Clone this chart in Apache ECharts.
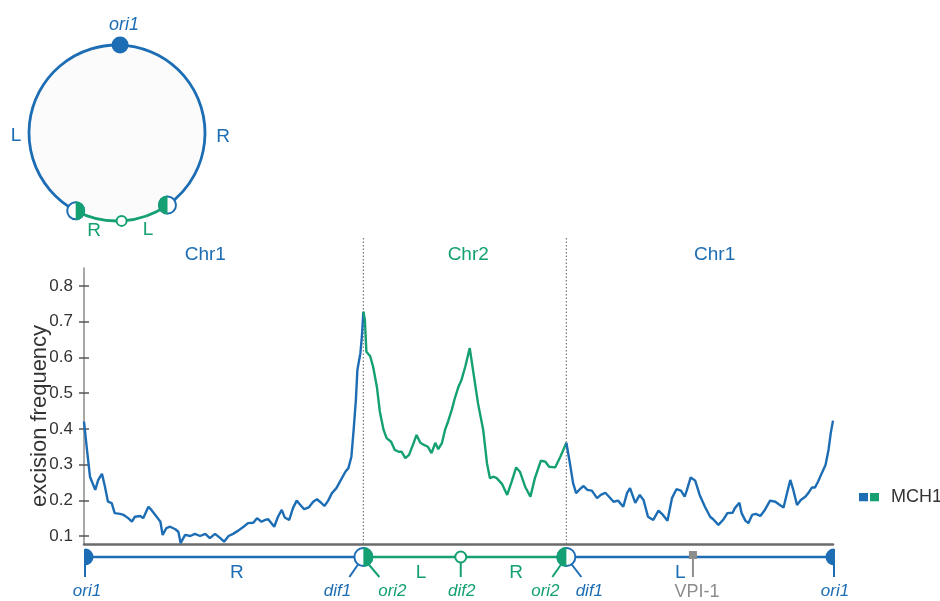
<!DOCTYPE html>
<html><head><meta charset="utf-8">
<script src="https://cdn.jsdelivr.net/npm/echarts@6/dist/echarts.min.js"></script>
<style>html,body{margin:0;padding:0;background:#fff}#c{width:940px;height:601px}</style>
</head><body><div id="c"></div>
<script>
// ---- data (x = position along MCH1, % of length) ----
const chr1RightPos = [0,0.4,0.8,1.5,1.9,2.4,2.8,3.2,3.7,4.1,4.8,5.3,5.9,6.4,6.8,7.5,7.9,8.6,9.0,9.7,10.2,10.5,11.0,11.5,12.2,12.6,12.9,13.5,14.2,14.8,15.5,16.2,16.8,17.5,18.2,18.7,19.3,19.9,20.6,21.3,21.9,22.6,23.1,23.7,24.2,24.6,25.4,25.9,26.4,26.8,27.4,27.9,28.4,28.8,29.4,30.0,30.6,31.1,31.5,32.1,32.6,33.1,33.7,34.3,34.9,35.3,35.7,36.0,36.3,36.5,36.9,37.1,37.3];
const chr1RightVal = [0.420,0.341,0.266,0.229,0.257,0.274,0.238,0.196,0.192,0.164,0.162,0.159,0.150,0.140,0.154,0.156,0.150,0.182,0.173,0.154,0.140,0.103,0.122,0.126,0.119,0.112,0.080,0.103,0.100,0.106,0.100,0.106,0.094,0.106,0.094,0.084,0.100,0.106,0.115,0.126,0.136,0.137,0.150,0.140,0.145,0.147,0.126,0.154,0.173,0.152,0.145,0.178,0.199,0.189,0.175,0.180,0.196,0.203,0.196,0.184,0.199,0.220,0.234,0.257,0.280,0.290,0.322,0.397,0.481,0.565,0.612,0.658,0.728];
const chr2Pos = [37.3,37.5,37.7,38.2,38.6,39.1,39.5,40.0,40.4,41.0,41.5,42.0,42.4,42.9,43.4,44.0,44.4,44.9,45.4,45.9,46.4,46.9,47.3,47.8,48.2,48.6,49.1,49.5,50.0,50.4,50.9,51.5,52.0,52.6,53.3,53.8,54.2,54.7,55.1,55.8,56.5,57.1,57.7,58.2,58.9,59.6,60.2,61.0,61.6,62.1,62.9,63.6,64.4];
const chr2Val = [0.728,0.705,0.616,0.604,0.574,0.518,0.448,0.397,0.374,0.364,0.341,0.336,0.336,0.318,0.327,0.360,0.383,0.361,0.355,0.350,0.332,0.361,0.343,0.361,0.397,0.420,0.453,0.485,0.518,0.537,0.574,0.626,0.556,0.472,0.397,0.304,0.262,0.266,0.262,0.246,0.215,0.252,0.292,0.280,0.238,0.210,0.262,0.311,0.308,0.294,0.292,0.322,0.361];
const chr1LeftPos = [64.4,64.8,65.3,65.7,66.2,66.7,67.2,67.8,68.5,69.0,69.6,70.1,70.7,71.3,72.0,72.5,72.9,73.6,74.2,74.7,75.3,76.0,76.7,77.3,77.9,78.5,79.1,79.7,80.2,80.5,81.0,81.6,82.2,82.9,83.6,84.0,84.7,85.4,85.9,86.6,86.9,87.5,87.8,88.3,88.7,89.2,89.7,90.3,90.9,91.6,92.3,92.9,93.4,93.8,94.3,94.7,95.2,95.7,96.3,96.7,97.2,97.6,98.0,98.5,99.0,99.4,99.7,100];
const chr1LeftVal = [0.361,0.313,0.248,0.220,0.231,0.240,0.229,0.227,0.206,0.215,0.221,0.210,0.196,0.199,0.182,0.220,0.234,0.193,0.215,0.201,0.154,0.145,0.171,0.159,0.143,0.206,0.231,0.227,0.210,0.229,0.264,0.255,0.215,0.182,0.154,0.147,0.131,0.147,0.164,0.165,0.178,0.193,0.164,0.143,0.136,0.159,0.162,0.156,0.173,0.199,0.196,0.187,0.180,0.215,0.257,0.229,0.187,0.201,0.210,0.220,0.236,0.236,0.252,0.276,0.299,0.341,0.388,0.423];
const yTicks = [0.1,0.2,0.3,0.4,0.5,0.6,0.7,0.8];
const yMin = 0.0776, yMax = 0.8504;
const boundaries = [37.3, 64.4];
const chrNames = ['Chr1','Chr2','Chr1'];
const chrLabelPos = [16.2, 51.3, 84.2];
const featurePos = [0, 37.3, 50.3, 64.4, 81.3, 100];
const featureKind = ['oriStart','junctionA','dif','junctionB','vpi','oriEnd'];
const featureLabels = [['ori1'],['dif1','ori2'],['dif2'],['ori2','dif1'],['VPI-1'],['ori1']];
const segStart = [0, 37.3, 64.4];
const segEnd = [37.3, 64.4, 100];
const segChr = ['Chr1','Chr2','Chr1'];
const armLabels = ['R','L','R','L'];
const armPos = [20.4, 45.0, 57.7, 79.6];
const armChr = ['Chr1','Chr2','Chr2','Chr1'];
const legendName = 'MCH1';

// ---- style ----
const BLUE = '#1c6db4', GREEN = '#14a072', GRAY = '#8d8d8d', DARK = '#333333';
const FONT = "'Liberation Sans', Arial, Helvetica, sans-serif";
const MAIN = {left: 84, right: 107, top: 268, bottom: 57};
const H = 601;
const chrColor = c => c === 'Chr2' ? GREEN : BLUE;
const deg = d => d * Math.PI / 180;

function txt(t, x, y, color, size, italic, extra) {
  return Object.assign({type: 'text', x: x, y: y, style: {
    text: t, fill: color, font: (italic ? 'italic ' : '') + size + 'px ' + FONT,
    align: 'center', verticalAlign: 'middle', textAlign: 'center', textVerticalAlign: 'middle'}}, extra || {});
}

// ---- circle diagram (graphic) ----
const C = {cx: 117, cy: 133, r: 88};
const pt = a => [C.cx + C.r * Math.cos(deg(a)), C.cy + C.r * Math.sin(deg(a))];
const pOri = pt(-88), pJL = pt(118), pJR = pt(55), pDif = pt(87);
const graphics = [
  {type: 'circle', shape: {cx: C.cx, cy: C.cy, r: C.r}, style: {fill: '#fbfbfc'}},
  {type: 'arc', shape: {cx: C.cx, cy: C.cy, r: C.r, startAngle: deg(118), endAngle: deg(415), clockwise: true}, style: {stroke: BLUE, lineWidth: 2.8, fill: null}},
  {type: 'arc', shape: {cx: C.cx, cy: C.cy, r: C.r, startAngle: deg(55), endAngle: deg(118), clockwise: true}, style: {stroke: GREEN, lineWidth: 2.8, fill: null}},
  {type: 'circle', shape: {cx: pOri[0], cy: pOri[1], r: 8.5}, style: {fill: BLUE}},
  {type: 'circle', shape: {cx: pJL[0], cy: pJL[1], r: 8.5}, style: {fill: '#fff', stroke: BLUE, lineWidth: 2}},
  {type: 'sector', shape: {cx: pJL[0], cy: pJL[1], r: 9.5, r0: 0, startAngle: -Math.PI/2, endAngle: Math.PI/2}, style: {fill: GREEN}},
  {type: 'circle', shape: {cx: pJR[0], cy: pJR[1], r: 8.5}, style: {fill: '#fff', stroke: BLUE, lineWidth: 2}},
  {type: 'sector', shape: {cx: pJR[0], cy: pJR[1], r: 9.5, r0: 0, startAngle: Math.PI/2, endAngle: Math.PI*1.5}, style: {fill: GREEN}},
  {type: 'circle', shape: {cx: pDif[0], cy: pDif[1], r: 5}, style: {fill: '#fff', stroke: GREEN, lineWidth: 2}},
  txt('ori1', 124, 25, BLUE, 18, true),
  txt('L', 16, 136, BLUE, 19, false),
  txt('R', 223, 137, BLUE, 19, false),
  txt('R', 94, 231, GREEN, 19, false),
  txt('L', 148, 230, GREEN, 19, false),
  txt('excision frequency', 40, 416, DARK, 22, false, {rotation: Math.PI/2})
];

// ---- render helpers for annotation bar ----
const BAR_Y = 12, STEM = 20, LAB = 34;
function renderSeg(params, api) {
  const a = api.coord([api.value(0), 0])[0];
  const b = api.coord([api.value(2), 0])[0];
  const y = params.coordSys.y + BAR_Y;
  return {type: 'line', shape: {x1: a, y1: y, x2: b, y2: y},
    style: {stroke: chrColor(segChr[params.dataIndex]), lineWidth: 2.5}};
}
function renderFeature(params, api) {
  const i = params.dataIndex;
  const x = api.coord([api.value(0), 0])[0];
  const y = params.coordSys.y + BAR_Y;
  const yb = y + STEM, yl = y + LAB;
  const L = featureLabels[i];
  const ch = [];
  const ln = (x1, y1, x2, y2, c) => ({type: 'line', shape: {x1, y1, x2, y2}, style: {stroke: c, lineWidth: 2}});
  switch (featureKind[i]) {
    case 'oriStart':
      ch.push({type: 'sector', shape: {cx: x + 1, cy: y, r: 8.5, r0: 0, startAngle: -Math.PI/2, endAngle: Math.PI/2}, style: {fill: BLUE}});
      ch.push(ln(x + 1, y - 8, x + 1, yb, BLUE));
      ch.push(txt(L[0], x + 3, yl, BLUE, 17, true));
      break;
    case 'oriEnd':
      ch.push({type: 'sector', shape: {cx: x + 1, cy: y, r: 8.5, r0: 0, startAngle: Math.PI/2, endAngle: Math.PI*1.5}, style: {fill: BLUE}});
      ch.push(ln(x + 1, y - 8, x + 1, yb, BLUE));
      ch.push(txt(L[0], x + 2, yl, BLUE, 17, true));
      break;
    case 'junctionA':
      ch.push(ln(x - 5, y + 7, x - 14, yb, BLUE));
      ch.push(ln(x + 5, y + 7, x + 16, yb, GREEN));
      ch.push({type: 'circle', shape: {cx: x, cy: y, r: 9}, style: {fill: '#fff', stroke: BLUE, lineWidth: 2}});
      ch.push({type: 'sector', shape: {cx: x, cy: y, r: 10, r0: 0, startAngle: -Math.PI/2, endAngle: Math.PI/2}, style: {fill: GREEN}});
      ch.push(txt(L[0], x - 26, yl, BLUE, 17, true));
      ch.push(txt(L[1], x + 29, yl, GREEN, 17, true));
      break;
    case 'junctionB':
      ch.push(ln(x - 5, y + 7, x - 14, yb, GREEN));
      ch.push(ln(x + 5, y + 7, x + 15, yb, BLUE));
      ch.push({type: 'circle', shape: {cx: x, cy: y, r: 9}, style: {fill: '#fff', stroke: BLUE, lineWidth: 2}});
      ch.push({type: 'sector', shape: {cx: x, cy: y, r: 10, r0: 0, startAngle: Math.PI/2, endAngle: Math.PI*1.5}, style: {fill: GREEN}});
      ch.push(txt(L[0], x - 21, yl, GREEN, 17, true));
      ch.push(txt(L[1], x + 23, yl, BLUE, 17, true));
      break;
    case 'dif':
      ch.push(ln(x, y + 5, x, yb, GREEN));
      ch.push({type: 'circle', shape: {cx: x, cy: y, r: 5.5}, style: {fill: '#fff', stroke: GREEN, lineWidth: 2}});
      ch.push(txt(L[0], x + 1, yl, GREEN, 17, true));
      break;
    case 'vpi':
      ch.push(ln(x, y + 2, x, yb, GRAY));
      ch.push({type: 'rect', shape: {x: x - 4, y: y - 6, width: 8, height: 8}, style: {fill: GRAY}});
      ch.push(txt(L[0], x + 4, yl + 1, GRAY, 18, false));
      break;
  }
  return {type: 'group', children: ch};
}
function renderArm(params, api) {
  const i = params.dataIndex;
  const x = api.coord([api.value(0), 0])[0];
  return txt(armLabels[i], x, params.coordSys.y + BAR_Y + 16, chrColor(armChr[i]), 19, false);
}
function renderDotted(params, api) {
  const x = api.coord([api.value(0), 0])[0];
  return {type: 'line', shape: {x1: x, y1: params.coordSys.y, x2: x, y2: H - MAIN.bottom},
    style: {stroke: '#777', lineWidth: 1.2, lineDash: [1.5, 2]}};
}
function renderChr(params, api) {
  const i = params.dataIndex;
  const x = api.coord([api.value(0), 0])[0];
  return txt(chrNames[i], x, params.coordSys.y + 17, chrColor(chrNames[i]), 19, false);
}

const legendIcon = 'image://data:image/svg+xml;utf8,' + encodeURIComponent(
  '<svg xmlns="http://www.w3.org/2000/svg" width="27" height="9"><rect x="0" y="0" width="9" height="9" fill="' + BLUE +
  '"/><rect x="11" y="0" width="9" height="9" fill="' + GREEN + '"/></svg>');

const hiddenAxis = (grid) => ({gridIndex: grid, type: 'value', min: 0, max: 100, show: false});
const chart = echarts.init(document.getElementById('c'), null, {renderer: 'canvas'});
chart.setOption({
  animation: false,
  backgroundColor: '#fff',
  textStyle: {fontFamily: FONT},
  grid: [
    Object.assign({}, MAIN),
    {left: MAIN.left, right: MAIN.right, top: 238, height: 30},
    {left: MAIN.left, right: MAIN.right, top: 545, height: 56}
  ],
  xAxis: [
    {gridIndex: 0, type: 'value', min: 0, max: 100,
      axisLine: {show: true, onZero: false, lineStyle: {color: '#6b6b6b', width: 2.5}},
      axisTick: {show: false}, axisLabel: {show: false}, splitLine: {show: false}},
    hiddenAxis(1), hiddenAxis(2)
  ],
  yAxis: [
    {gridIndex: 0, type: 'value', min: yMin, max: yMax, position: 'left',
      axisLine: {show: true, onZero: false, lineStyle: {color: '#8a8a8a', width: 1.5}},
      axisTick: {show: true, length: 5, customValues: yTicks, lineStyle: {color: '#555', width: 1.5}},
      axisLabel: {show: true, customValues: yTicks, margin: 11, fontSize: 17, color: DARK, fontFamily: FONT,
        formatter: v => Number(v).toFixed(1)},
      splitLine: {show: false}},
    {gridIndex: 0, type: 'value', min: yMin, max: yMax, position: 'left',
      axisLine: {show: true, onZero: false, lineStyle: {color: 'rgba(0,0,0,0)', width: 0}},
      axisTick: {show: true, inside: true, length: 5, customValues: yTicks, lineStyle: {color: '#555', width: 1.5}},
      axisLabel: {show: false}, splitLine: {show: false}},
    {gridIndex: 1, type: 'value', min: 0, max: 1, show: false},
    {gridIndex: 2, type: 'value', min: 0, max: 1, show: false}
  ],
  legend: {show: true, data: [legendName], left: 859, top: 488, padding: 0, itemWidth: 27, itemHeight: 9,
    icon: legendIcon, selectedMode: false, textStyle: {fontSize: 18, color: DARK, fontFamily: FONT}},
  graphic: {elements: graphics},
  series: [
    {type: 'custom', name: 'boundaries', xAxisIndex: 1, yAxisIndex: 2, renderItem: renderDotted, silent: true, z: 1,
      data: boundaries.map(b => [b, 0])},
    {type: 'custom', name: 'chr', xAxisIndex: 1, yAxisIndex: 2, renderItem: renderChr, silent: true,
      data: chrLabelPos.map(p => [p, 0])},
    {type: 'line', name: legendName, xAxisIndex: 0, yAxisIndex: 0, showSymbol: false, symbol: 'none', silent: true, z: 3,
      lineStyle: {color: BLUE, width: 2.4}, itemStyle: {color: BLUE},
      data: chr1RightPos.map((p, i) => [p, chr1RightVal[i]])},
    {type: 'line', name: legendName, xAxisIndex: 0, yAxisIndex: 0, showSymbol: false, symbol: 'none', silent: true, z: 3,
      lineStyle: {color: GREEN, width: 2.4}, itemStyle: {color: GREEN},
      data: chr2Pos.map((p, i) => [p, chr2Val[i]])},
    {type: 'line', name: legendName, xAxisIndex: 0, yAxisIndex: 0, showSymbol: false, symbol: 'none', silent: true, z: 3,
      lineStyle: {color: BLUE, width: 2.4}, itemStyle: {color: BLUE},
      data: chr1LeftPos.map((p, i) => [p, chr1LeftVal[i]])},
    {type: 'custom', name: 'segments', xAxisIndex: 2, yAxisIndex: 3, renderItem: renderSeg, silent: true,
      data: segStart.map((s, i) => [s, 0, segEnd[i]])},
    {type: 'custom', name: 'features', xAxisIndex: 2, yAxisIndex: 3, renderItem: renderFeature, silent: true, z: 4,
      data: featurePos.map(p => [p, 0])},
    {type: 'custom', name: 'arms', xAxisIndex: 2, yAxisIndex: 3, renderItem: renderArm, silent: true,
      data: armPos.map(p => [p, 0])}
  ]
});
</script>
</body></html>
